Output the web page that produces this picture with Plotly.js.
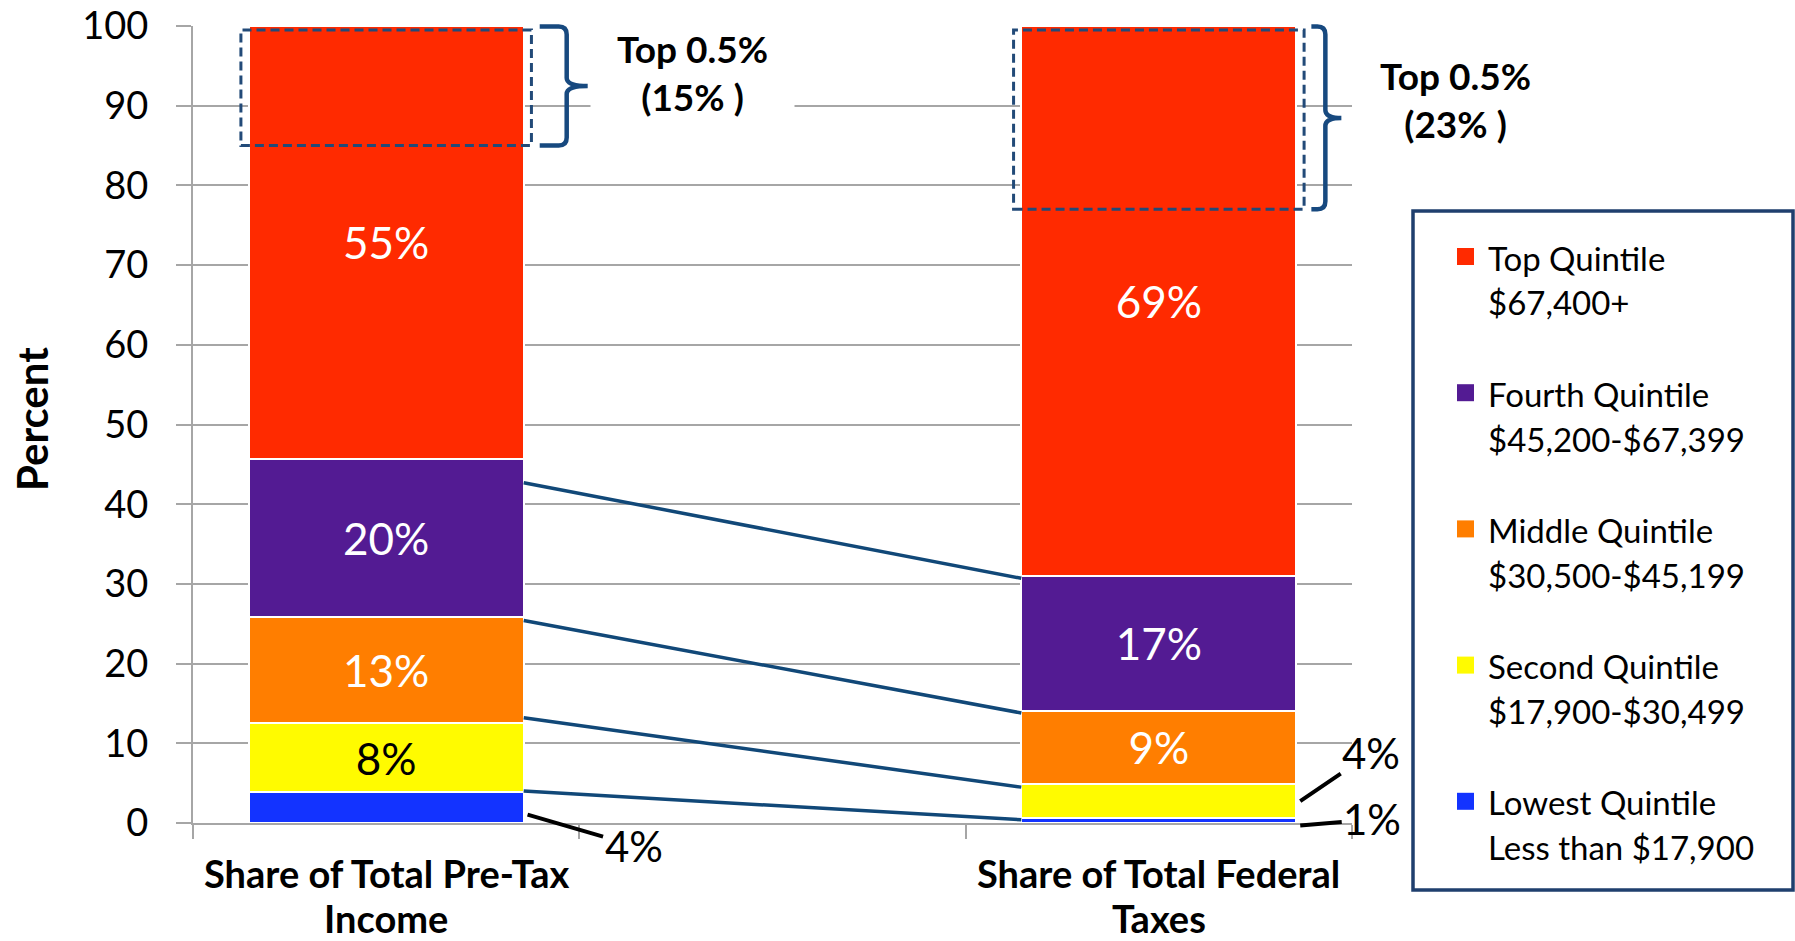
<!DOCTYPE html>
<html>
<head>
<meta charset="utf-8">
<script src="https://cdn.plot.ly/plotly-3.0.1.min.js"></script>
<style>html,body{margin:0;padding:0;background:#fff;}#chart{width:1795px;height:941px;}</style>
</head>
<body>
<div id="chart"></div>
<script>
// ---------------- data ----------------
const categories = ["Share of Total Pre-Tax<br>Income", "", "Share of Total Federal<br>Taxes"];
const barPositions = [0, 2];
const quintiles = ["Lowest Quintile", "Second Quintile", "Middle Quintile", "Fourth Quintile", "Top Quintile"];
const incomeRanges = ["Less than $17,900", "$17,900-$30,499", "$30,500-$45,199", "$45,200-$67,399", "$67,400+"];
const incomeShare = [3.9, 8.6, 13.4, 19.8, 54.3];
const taxShare = [0.6, 4.3, 9.2, 16.9, 69.0];
const incomeLabels = ["4%", "8%", "13%", "20%", "55%"];
const taxLabels = ["1%", "4%", "9%", "17%", "69%"];
const top05Share = [15, 23];
const top05Labels = ["Top 0.5%<br>(15% )", "Top 0.5%<br>(23% )"];
const connectorIncome = [42.7, 25.4, 13.2, 4.0];
const connectorTax = [30.7, 13.8, 4.5, 0.4];
const yTickVals = [0, 10, 20, 30, 40, 50, 60, 70, 80, 90, 100];
const yTitle = "Percent";

// ---------------- style / layout ----------------
const colors = ["#1333FF", "#FFFB00", "#FF7E00", "#531B93", "#FF2A00"];
const textColors = ["#ffffff", "#000000", "#ffffff", "#ffffff", "#ffffff"];
const FONT = "Lato, 'Open Sans', sans-serif";
const GRID = "#A6A6A6";
const NAVY = "#17497F";
const W = 1795, H = 941, M = {l: 193, r: 443, t: 26, b: 118};
const PW = W - M.l - M.r, PH = H - M.t - M.b;
const XR = [-0.5, 2.5], YR = [0, 100];
const barWidth = 0.712, halfW = barWidth / 2;
const minInside = 8;

const pxX = x => M.l + (x - XR[0]) / (XR[1] - XR[0]) * PW;
const pxY = y => M.t + (YR[1] - y) / (YR[1] - YR[0]) * PH;
const pX = px => (px - M.l) / PW;
const pY = py => (H - M.b - py) / PH;

// ---------------- traces ----------------
const traces = quintiles.map((q, i) => {
  const vals = [incomeShare[i], taxShare[i]];
  const labs = [incomeLabels[i], taxLabels[i]];
  return {
    type: "bar",
    name: q,
    x: barPositions,
    y: vals,
    width: barWidth,
    marker: {color: colors[i], line: {color: "#ffffff", width: 2}},
    text: vals.map((v, j) => v >= minInside ? labs[j] : ""),
    textposition: "inside",
    insidetextanchor: "middle",
    constraintext: "none",
    textfont: {family: FONT, size: 44, color: textColors[i]},
    hoverinfo: "skip",
    showlegend: false
  };
});

// ---------------- shapes ----------------
const shapes = [];
// connectors between the two bars
connectorIncome.forEach((v, k) => {
  shapes.push({type: "line", xref: "x", yref: "y",
    x0: barPositions[0] + halfW, y0: v, x1: barPositions[1] - halfW, y1: connectorTax[k],
    line: {color: "#114878", width: 3.5}, layer: "above"});
});
// dashed boxes for top 0.5%
barPositions.forEach((bx, i) => {
  shapes.push({type: "rect", xref: "x", yref: "y",
    x0: bx - halfW - 0.02, x1: bx + halfW + 0.02, y0: 100 - top05Share[i], y1: 99.5,
    line: {color: "#224A78", width: 3, dash: "9px,5px"}, fillcolor: "rgba(0,0,0,0)", layer: "above"});
});
// braces
const braceSpec = [{gap: 16, depth: 27, tip: 21}, {gap: 15, depth: 14, tip: 16}];
const P = (x, y) => pX(x).toFixed(5) + "," + pY(y).toFixed(5);
barPositions.forEach((bx, i) => {
  const s = braceSpec[i];
  const edge = pxX(bx + halfW);
  const yTop = pxY(100) + 0.5, yBot = pxY(100 - top05Share[i]), yMid = (yTop + yBot) / 2;
  const x0 = edge + s.gap, xv = x0 + s.depth, xt = xv + s.tip, r = 8;
  const path = `M${P(x0, yTop)} L${P(xv - r, yTop)} Q${P(xv, yTop)} ${P(xv, yTop + r)} L${P(xv, yMid - r)} Q${P(xv, yMid)} ${P(xt, yMid)} Q${P(xv, yMid)} ${P(xv, yMid + r)} L${P(xv, yBot - r)} Q${P(xv, yBot)} ${P(xv - r, yBot)} L${P(x0, yBot)}`;
  shapes.push({type: "path", xref: "paper", yref: "paper", path: path,
    line: {color: NAVY, width: 4.5}, layer: "above"});
});
// legend box
const LEG = {x0: 1413, x1: 1793, y0: 211, y1: 890, mx0: 1457, mx1: 1474, tx: 1486, first: 257.5, step: 136.2, line: 44.8};
shapes.push({type: "rect", xref: "paper", yref: "paper",
  x0: pX(LEG.x0), x1: pX(LEG.x1), y0: pY(LEG.y1), y1: pY(LEG.y0),
  line: {color: "#1F3F6E", width: 3.5}, fillcolor: "rgba(0,0,0,0)", layer: "above"});

// ---------------- annotations ----------------
const annotations = [];
// category labels
categories.forEach((c, i) => {
  if (!c) return;
  const parts = c.split("<br>");
  parts.forEach((t, k) => {
    annotations.push({xref: "paper", yref: "paper", x: pX(pxX(i)), y: pY(873 + k * 45),
      text: "<b>" + t + "</b>", showarrow: false, xanchor: "center", yanchor: "middle",
      font: {family: FONT, size: 38, color: "#000"}});
  });
});
// y title
annotations.push({xref: "paper", yref: "paper", x: pX(32), y: pY(419), text: "<b>" + yTitle + "</b>",
  textangle: -90, showarrow: false, xanchor: "center", yanchor: "middle",
  font: {family: FONT, size: 42, color: "#000"}});
// top 0.5% labels
const topPos = [[692, 72], [1455, 100]];
top05Labels.forEach((t, i) => {
  const parts = t.split("<br>");
  annotations.push({xref: "paper", yref: "paper", x: pX(topPos[i][0]), y: pY(topPos[i][1]),
    text: parts.map(p => "<b>" + p + "</b>").join("<br>"), showarrow: false,
    xanchor: "center", yanchor: "middle", align: "center",
    bgcolor: i === 0 ? "#ffffff" : "rgba(0,0,0,0)", borderpad: i === 0 ? 26 : 2,
    font: {family: FONT, size: 37, color: "#000"}});
});
// outside small-segment labels with leader lines
const outside = [
  {text: incomeLabels[0], x: barPositions[0] + halfW + 0.01, y: incomeShare[0] * 0.27, ax: 106, ay: 31},
  {text: taxLabels[1], x: barPositions[1] + halfW + 0.01, y: taxShare[0] + taxShare[1] / 2, ax: 71, ay: -48},
  {text: taxLabels[0], x: barPositions[1] + halfW + 0.01, y: taxShare[0] / 2 - 0.6, ax: 72, ay: -6}
];
outside.forEach(o => {
  annotations.push({xref: "paper", yref: "paper", x: pX(pxX(o.x)), y: pY(pxY(o.y)),
    text: o.text, showarrow: true, arrowhead: 0, arrowwidth: 4, arrowcolor: "#000",
    ax: o.ax, ay: o.ay, standoff: 0, startstandoff: 0,
    font: {family: FONT, size: 42, color: "#000"}});
});
// legend entries (top quintile first)
for (let k = 0; k < quintiles.length; k++) {
  const i = quintiles.length - 1 - k;
  const yc = LEG.first + k * LEG.step;
  shapes.push({type: "rect", xref: "paper", yref: "paper",
    x0: pX(LEG.mx0), x1: pX(LEG.mx1), y0: pY(yc + 7.5), y1: pY(yc - 9.5),
    line: {width: 0}, fillcolor: colors[i], layer: "above"});
  [quintiles[i], incomeRanges[i]].forEach((t, j) => {
    annotations.push({xref: "paper", yref: "paper", x: pX(LEG.tx), y: pY(yc + j * LEG.line),
      text: t, showarrow: false, xanchor: "left", yanchor: "middle",
      font: {family: FONT, size: 33, color: "#000"}});
  });
}

// ---------------- layout ----------------
const layout = {
  width: W, height: H,
  margin: M,
  paper_bgcolor: "#ffffff", plot_bgcolor: "#ffffff",
  barmode: "stack",
  bargap: 0,
  showlegend: false,
  xaxis: {
    type: "linear", range: XR, tickvals: [-0.5, 0.5, 1.5, 2.5], ticktext: ["", "", "", ""],
    ticks: "outside", ticklen: 14, tickwidth: 2, tickcolor: GRID,
    showline: true, linecolor: GRID, linewidth: 2, showgrid: false, zeroline: false,
    fixedrange: true, automargin: false
  },
  yaxis: {
    range: YR, tickvals: yTickVals, ticktext: yTickVals.map(String),
    ticks: "outside", ticklen: 15, tickwidth: 2, tickcolor: GRID,
    showline: true, linecolor: GRID, linewidth: 2,
    showgrid: true, gridcolor: GRID, gridwidth: 2, zeroline: false,
    tickfont: {family: FONT, size: 38, color: "#000"}, ticklabelstandoff: 20,
    ticklabeloverflow: "allow",
    fixedrange: true, automargin: false
  },
  shapes: shapes,
  annotations: annotations,
  font: {family: FONT, color: "#000"}
};

Plotly.newPlot("chart", traces, layout, {displayModeBar: false, staticPlot: true});
</script>
</body>
</html>
